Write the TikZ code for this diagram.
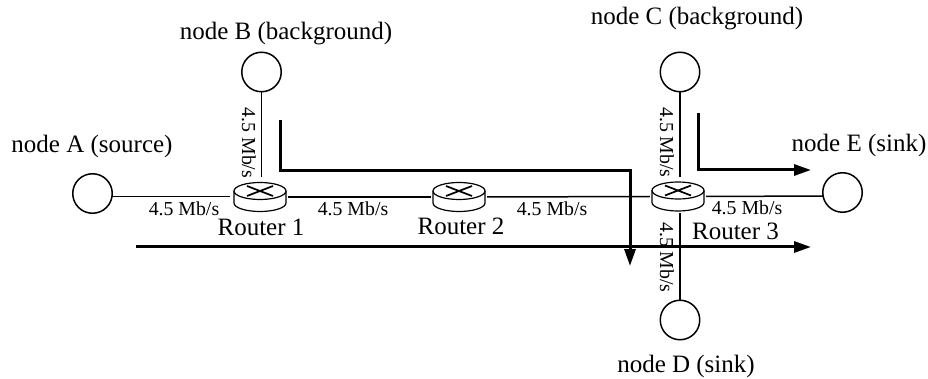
\documentclass[tikz,border=0pt]{standalone}
\usepackage{fontspec}
\setmainfont{Liberation Serif}
\usetikzlibrary{arrows.meta}
\tikzset{
  x=1pt,y=-1pt,
  host/.style={circle,draw=black,line width=1.5pt,fill=white,minimum size=39.5pt,inner sep=0pt},
  routerbox/.style={minimum width=56pt,minimum height=35pt,inner sep=0pt},
  link/.style={draw=black,line width=1.5pt},
  flow/.style={draw=black,line width=3pt,-{Triangle[length=17pt,width=11pt]}},
  nlabel/.style={font=\fontsize{25}{27}\selectfont,inner sep=0pt},
  rate/.style={font=\fontsize{19.8}{22}\selectfont,inner sep=0pt},
}
\newcommand{\routerglyph}[1]{%
  \begin{scope}[shift={(#1)},line width=1.2pt]
    \draw[fill=white] (-26,-6) -- (-26,6) arc[start angle=180,end angle=0,x radius=26,y radius=8.5] -- (26,-6);
    \draw[fill=white] (0,-6) ellipse[x radius=26,y radius=8.5];
    \draw[line width=1.7pt] (-13,-11) -- (13,-1) (-13,-1) -- (13,-11);
  \end{scope}}
\begin{document}
\begin{tikzpicture}
\useasboundingbox (0,0) rectangle (928,379);
\node[host] (A) at (92.5,193.5) {};
\node[host] (B) at (261.5,72) {};
\node[host] (C) at (680,72) {};
\node[host] (D) at (680,320) {};
\node[host] (E) at (842.5,192.5) {};
\node[routerbox] (R1) at (260,197) {};
\node[routerbox] (R2) at (459,197) {};
\node[routerbox] (R3) at (678,196.5) {};
\coordinate (bstem) at (261.5,177);
\coordinate (cstem) at (680,177);
\coordinate (dstem) at (680,213);
\coordinate (aend) at (230,196.7);
\coordinate (aout) at (111,196.7);
\coordinate (eend) at (823,196);
\draw[link] (aout) -- (aend);
\draw[link] (B) -- (bstem);
\draw[link] (R1.east) -- (R2.west);
\draw[link] (R2.east) -- (R3.west);
\draw[link] (C) -- (cstem);
\draw[link] (R3.east) -- (eend);
\draw[link] (dstem) -- (D);
\routerglyph{260,197}
\routerglyph{459,197}
\routerglyph{678,196.5}
\node[nlabel,anchor=base] (la) at (92,152.5) {node A (source)};
\node[nlabel,anchor=base] (lb) at (286,40) {node B (background)};
\node[nlabel,anchor=base] (lc) at (697,25) {node C (background)};
\node[nlabel,anchor=base] (ld) at (686,372.5) {node D (sink)};
\node[nlabel,anchor=base] (le) at (859,152) {node E (sink)};
\node[nlabel,anchor=base] (r1) at (261,235.5) {Router 1};
\node[nlabel,anchor=base] (r2) at (461,235) {Router 2};
\node[nlabel,anchor=base] (r3) at (735.5,240) {Router 3};
\node[rate,anchor=base] (t1) at (184,216) {4.5 Mb/s};
\node[rate,anchor=base] (t2) at (353,216) {4.5 Mb/s};
\node[rate,anchor=base] (t3) at (552,216) {4.5 Mb/s};
\node[rate,anchor=base] (t4) at (747,215) {4.5 Mb/s};
\node[rate,rotate=-90,anchor=base] (t5) at (242,143) {4.5 Mb/s};
\node[rate,rotate=-90,anchor=base] (t6) at (660,142.5) {4.5 Mb/s};
\node[rate,rotate=-90,anchor=base] (t7) at (660,257.5) {4.5 Mb/s};
\coordinate (f1s) at (136,247);
\coordinate (f1e) at (811,247);
\coordinate (f2s) at (280,120);
\coordinate (f2c) at (280,171);
\coordinate (f2d) at (630,171);
\coordinate (f2e) at (630,266);
\coordinate (f3s) at (698.5,113);
\coordinate (f3c) at (698.5,170);
\coordinate (f3e) at (811,170);
\draw[flow] (f1s) -- (f1e);
\draw[flow] (f2s) -- (f2c) -- (f2d) -- (f2e);
\draw[flow] (f3s) -- (f3c) -- (f3e);
\end{tikzpicture}
\end{document}
